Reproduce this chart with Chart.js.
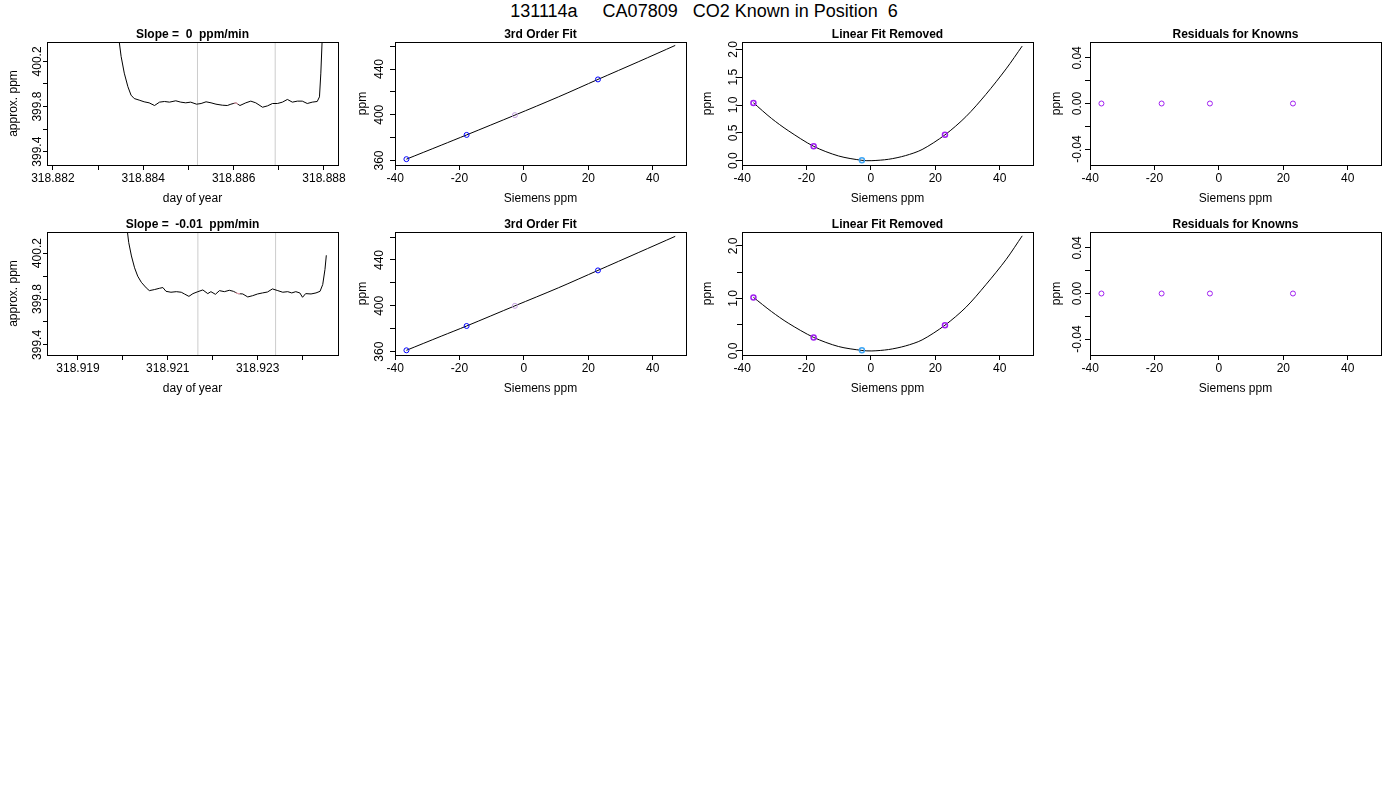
<!DOCTYPE html>
<html>
<head>
<meta charset="utf-8">
<title>131114a CA07809 CO2 Known in Position 6</title>
<script src="https://cdn.jsdelivr.net/npm/chart.js@4.4.1/dist/chart.umd.min.js"></script>
<style>
  body { margin: 0; background: #fff; width: 1400px; height: 800px; position: relative; overflow: hidden; font-family: 'Liberation Sans', Arial, sans-serif; }
  #kop { position: absolute; left: 0; top: 0; width: 1408px; text-align: center; font-size: 18px; line-height: 22px; white-space: pre; color: #000; }
  canvas { position: absolute; }
</style>
</head>
<body>
<div id="kop">131114a     CA07809   CO2 Known in Position  6</div>
<script>
// ---- rij 1: tijdreeks (day of year / approx. ppm) ----
const dagA = [318.88342, 318.88346, 318.88351, 318.88358, 318.88366, 318.88373, 318.88380, 318.88391, 318.88402, 318.88413,
  318.88425, 318.88436, 318.88447, 318.88458, 318.88472, 318.88483, 318.88494, 318.88505, 318.88518, 318.88528,
  318.88539, 318.88550, 318.88561, 318.88575, 318.88586, 318.88594, 318.88605, 318.88614, 318.88627, 318.88638,
  318.88649, 318.88664, 318.88675, 318.88686, 318.88697, 318.88708, 318.88719, 318.88730, 318.88741, 318.88752,
  318.88763, 318.88774, 318.88785, 318.88790, 318.88793, 318.88796, 318.88798];
const ppmA = [400.55, 400.40, 400.245, 400.096, 399.976, 399.901, 399.871, 399.857, 399.842, 399.833,
  399.809, 399.839, 399.845, 399.839, 399.851, 399.839, 399.833, 399.839, 399.821, 399.827,
  399.842, 399.833, 399.821, 399.812, 399.809, 399.821, 399.833, 399.809, 399.833, 399.848,
  399.833, 399.794, 399.806, 399.827, 399.827, 399.839, 399.863, 399.839, 399.848, 399.848,
  399.827, 399.839, 399.845, 399.886, 400.096, 400.395, 400.60];
const roseDagA = [318.88600, 318.88605, 318.88610];
const rosePpmA = [399.831, 399.833, 399.820];
const grijsDagA = [318.88520, 318.88692];

// ---- rij 2: tijdreeks ----
const dagB = [318.92007, 318.92009, 318.92013, 318.92019, 318.92026, 318.92033, 318.92041, 318.92052, 318.92059, 318.92070,
  318.92082, 318.92089, 318.92096, 318.92107, 318.92119, 318.92130, 318.92137, 318.92147, 318.92156, 318.92167,
  318.92178, 318.92189, 318.92196, 318.92206, 318.92215, 318.92226, 318.92237, 318.92246, 318.92256, 318.92267,
  318.92278, 318.92289, 318.92300, 318.92311, 318.92322, 318.92333, 318.92345, 318.92356, 318.92367, 318.92376,
  318.92385, 318.92394, 318.92400, 318.92407, 318.92419, 318.92430, 318.92439, 318.92445, 318.92450, 318.92453];
const ppmB = [400.55, 400.42, 400.292, 400.175, 400.072, 399.999, 399.946, 399.897, 399.873, 399.882,
  399.894, 399.900, 399.867, 399.859, 399.864, 399.859, 399.844, 399.823, 399.847, 399.864,
  399.879, 399.847, 399.864, 399.841, 399.873, 399.864, 399.876, 399.867, 399.847, 399.844,
  399.818, 399.829, 399.844, 399.853, 399.861, 399.888, 399.873, 399.859, 399.864, 399.853,
  399.864, 399.853, 399.815, 399.847, 399.844, 399.853, 399.867, 399.926, 400.058, 400.181];
const roseDagB = [318.92251, 318.92256, 318.92261];
const rosePpmB = [399.855, 399.847, 399.846];
const grijsDagB = [318.92167, 318.92340];

// ---- knowns (Siemens ppm) ----
const siemensPpm = [-36.5, -17.8, -2.8, 23.0];
const knownPpmA = [361.2, 382.4, 399.7, 430.9];
const knownPpmB = [361.2, 382.4, 400.0, 430.9];
const knownKleur = ['#0000ff', '#0000ff', '#c4a2e0', '#0000ff'];

// 3rd order fit lijn
const fitX = [-36.5, -25.7, -17.8, -2.8, 10.7, 23.0, 35.7, 47.0];
const fitYA = [361.2, 373.4, 382.4, 399.7, 415.6, 430.9, 446.5, 460.6];
const fitYB = [361.2, 373.5, 382.4, 400.0, 415.7, 430.9, 446.6, 460.6];

// linear fit removed
const restX = [-36.5, -30.9, -25.7, -17.8, -10.1, -2.8, 0.3, 5.5, 10.7, 15.9, 23.0, 29.5, 35.7, 42.0, 47.0];
const restYA = [1.04, 0.76, 0.54, 0.258, 0.085, 0.006, 0.0, 0.025, 0.09, 0.20, 0.464, 0.79, 1.19, 1.65, 2.06];
const restYB = [1.02, 0.75, 0.53, 0.258, 0.085, 0.010, 0.0, 0.027, 0.095, 0.21, 0.49, 0.83, 1.26, 1.74, 2.19];
const restPuntA = [1.036, 0.259, 0.006, 0.464];
const restPuntB = [1.019, 0.258, 0.013, 0.490];
const restKleur = ['#a020f0', '#a020f0', '#3ea6f5', '#a020f0'];

// residuals for knowns
const residuA = [0, 0, 0, 0];
const residuB = [0, 0, 0, 0];
const residuKleur = ['#a020f0', '#a020f0', '#a020f0', '#a020f0'];

// ---- ticks en labels ----
const dagTicksA = [318.882, 318.883, 318.884, 318.885, 318.886, 318.887, 318.888];
const dagLabelsA = ['318.882', '', '318.884', '', '318.886', '', '318.888'];
const dagTicksB = [318.919, 318.920, 318.921, 318.922, 318.923, 318.924];
const dagLabelsB = ['318.919', '', '318.921', '', '318.923', ''];
const ppmTicks = [399.4, 399.6, 399.8, 400.0, 400.2];
const ppmLabels = ['399.4', '', '399.8', '', '400.2'];
const siemensTicks = [-40, -20, 0, 20, 40];
const siemensLabels = ['-40', '-20', '0', '20', '40'];
const fitTicks = [360, 380, 400, 420, 440, 460];
const fitLabels = ['360', '', '400', '', '440', ''];
const restTicks = [0, 0.5, 1.0, 1.5, 2.0];
const restLabelsA = ['0.0', '0.5', '1.0', '1.5', '2.0'];
const restLabelsB = ['0.0', '', '1.0', '', '2.0'];
const residuTicks = [-0.04, -0.02, 0, 0.02, 0.04];
const residuLabels = ['-0.04', '', '0.00', '', '0.04'];

const FONT = "'Liberation Sans', Arial, sans-serif";
Chart.defaults.font.family = FONT;
Chart.defaults.font.size = 12;
Chart.defaults.color = '#000';

// vaste maten van een plotvak (zoals in R)
const BOX_W = 291, BOX_H = 123;
const LEFT_SPACE = 45, TOP_SPACE = 25, BOTTOM_SPACE = 48, RIGHT_SPACE = 12;

const meetCtx = document.createElement('canvas').getContext('2d');
function breedsteLabel(labels) {
    meetCtx.font = '12px ' + FONT;
    return Math.max(...labels.map(l => meetCtx.measureText(l).width));
}

function pts(xs, ys) {
    return xs.map((x, i) => ({ x: x, y: ys[i] }));
}

function lijn(xs, ys, kleur, spanning) {
    return { data: pts(xs, ys), showLine: true, borderColor: kleur, borderWidth: 1, pointRadius: 0, fill: false, tension: spanning || 0 };
}

function punten(xs, ys, kleuren, dikte) {
    return { data: pts(xs, ys), showLine: false, pointRadius: 2.5, pointBorderWidth: dikte,
        pointBorderColor: kleuren, pointBackgroundColor: 'rgba(0,0,0,0)' };
}

// kader rond het plotvak
const kaderPlugin = {
    id: 'kader',
    afterDatasetsDraw(chart) {
        const { ctx, chartArea: a } = chart;
        ctx.save();
        ctx.strokeStyle = '#000';
        ctx.lineWidth = 1;
        ctx.strokeRect(Math.round(a.left) + 0.5, Math.round(a.top) + 0.5, Math.round(a.right - a.left), Math.round(a.bottom - a.top));
        ctx.restore();
    }
};

function maakPanel(p) {
    const c = document.createElement('canvas');
    c.width = LEFT_SPACE + BOX_W + RIGHT_SPACE;
    c.height = TOP_SPACE + BOX_H + BOTTOM_SPACE;
    c.style.left = (p.left - LEFT_SPACE) + 'px';
    c.style.top = (p.top - TOP_SPACE) + 'px';
    document.body.appendChild(c);

    const tl = p.yTickLen || 5;

    return new Chart(c, {
        type: 'scatter',
        data: { datasets: p.datasets },
        options: {
            responsive: false,
            animation: false,
            events: [],
            layout: { padding: { right: RIGHT_SPACE } },
            plugins: {
                legend: { display: false },
                tooltip: { enabled: false },
                title: {
                    display: true, text: p.titel, fullSize: false, color: '#000',
                    font: { weight: 'bold', size: 12 },
                    padding: { top: 10.4, bottom: 0.2 }
                }
            },
            scales: {
                x: {
                    type: 'linear', position: 'bottom', min: p.xMin, max: p.xMax, bounds: 'data',
                    afterBuildTicks: ax => { ax.ticks = p.xTicks.map(v => ({ value: v })); },
                    afterFit: ax => { ax.height = BOTTOM_SPACE; },
                    ticks: { callback: (v, i) => p.xLabels[i], autoSkip: false, maxRotation: 0, minRotation: 0, padding: 1.5, color: '#000' },
                    grid: { display: true, drawOnChartArea: false, drawTicks: true, tickLength: 5, tickColor: '#000', tickWidth: 1 },
                    border: { display: true, color: '#000', width: 1 },
                    title: { display: true, text: p.xTitel, color: '#000', padding: { top: 0, bottom: 7.5 } }
                },
                y: {
                    type: 'linear', position: 'left', min: p.yMin, max: p.yMax, bounds: 'data',
                    afterBuildTicks: ax => { ax.ticks = p.yTicks.map(v => ({ value: v })); },
                    afterFit: ax => { ax.width = LEFT_SPACE; },
                    ticks: {
                        callback: (v, i) => p.yLabels[i], autoSkip: false, minRotation: 90, maxRotation: 90,
                        crossAlign: 'center', color: '#000',
                        padding: p.yLabelAfstand - tl - breedsteLabel(p.yLabels) / 2
                    },
                    grid: { display: true, drawOnChartArea: false, drawTicks: true, tickLength: tl, tickColor: '#000', tickWidth: 1 },
                    border: { display: true, color: '#000', width: 1 },
                    title: { display: true, text: p.yTitel, color: '#000', padding: { top: LEFT_SPACE - p.yTitelAfstand - 7.2, bottom: 0 } }
                }
            }
        },
        plugins: [kaderPlugin]
    });
}

const rijTop = [42, 232];
const kolomLinks = [47, 395, 742, 1090];

function tijdPanel(rij, titel, dag, ppm, roseDag, rosePpm, grijs, xMin, xMax, yMin, yMax, xTicks, xLabels) {
    maakPanel({
        left: kolomLinks[0], top: rijTop[rij], titel: titel,
        datasets: [
            lijn(roseDag, rosePpm, '#ffb0c0'),
            lijn(dag, ppm, '#000'),
            lijn([grijs[0], grijs[0]], [yMin - 1, yMax + 1], '#cccccc'),
            lijn([grijs[1], grijs[1]], [yMin - 1, yMax + 1], '#cccccc')
        ],
        xMin: xMin, xMax: xMax, xTicks: xTicks, xLabels: xLabels, xTitel: 'day of year',
        yMin: yMin, yMax: yMax, yTicks: ppmTicks, yLabels: ppmLabels, yTitel: 'approx. ppm',
        yTickLen: 4, yLabelAfstand: 9.3, yTitelAfstand: 33
    });
}

function fitPanels(rij, knownPpm, fitY, restY, restPunt, residu, restLabels, fitMin, fitMax, restMin, restMax) {
    maakPanel({
        left: kolomLinks[1], top: rijTop[rij], titel: '3rd Order Fit',
        datasets: [punten(siemensPpm, knownPpm, knownKleur, 1), lijn(fitX, fitY, '#000', 0.3)],
        xMin: -40.05, xMax: 50.35, xTicks: siemensTicks, xLabels: siemensLabels, xTitel: 'Siemens ppm',
        yMin: fitMin, yMax: fitMax, yTicks: fitTicks, yLabels: fitLabels, yTitel: 'ppm',
        yLabelAfstand: 15, yTitelAfstand: 32
    });
    maakPanel({
        left: kolomLinks[2], top: rijTop[rij], titel: 'Linear Fit Removed',
        datasets: [punten(siemensPpm, restPunt, restKleur, 1.5), lijn(restX, restY, '#000', 0.3)],
        xMin: -40.05, xMax: 50.35, xTicks: siemensTicks, xLabels: siemensLabels, xTitel: 'Siemens ppm',
        yMin: restMin, yMax: restMax, yTicks: restTicks, yLabels: restLabels, yTitel: 'ppm',
        yLabelAfstand: 8, yTitelAfstand: 34
    });
    maakPanel({
        left: kolomLinks[3], top: rijTop[rij], titel: 'Residuals for Knowns',
        datasets: [punten(siemensPpm, residu, residuKleur, 1)],
        xMin: -40.05, xMax: 50.35, xTicks: siemensTicks, xLabels: siemensLabels, xTitel: 'Siemens ppm',
        yMin: -0.054, yMax: 0.054, yTicks: residuTicks, yLabels: residuLabels, yTitel: 'ppm',
        yLabelAfstand: 12.4, yTitelAfstand: 33
    });
}

tijdPanel(0, 'Slope =  0  ppm/min', dagA, ppmA, roseDagA, rosePpmA, grijsDagA, 318.88187, 318.88831, 399.282, 400.372, dagTicksA, dagLabelsA);
fitPanels(0, knownPpmA, fitYA, restYA, restPuntA, residuA, restLabelsA, 356.1, 463.6, -0.078, 2.133);

tijdPanel(1, 'Slope =  -0.01  ppm/min', dagB, ppmB, roseDagB, rosePpmB, grijsDagB, 318.91831, 318.92479, 399.312, 400.384, dagTicksB, dagLabelsB);
fitPanels(1, knownPpmB, fitYB, restYB, restPuntB, residuB, restLabelsB, 357.1, 464.4, -0.077, 2.263);
</script>
</body>
</html>
